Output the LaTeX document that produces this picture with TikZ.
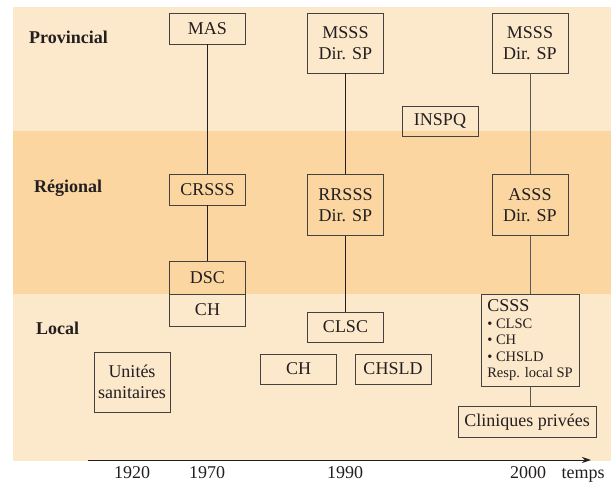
\documentclass[tikz,border=0pt]{standalone}
\usepackage{fontspec}
\setmainfont{Liberation Serif}
\usetikzlibrary{arrows.meta}
\definecolor{bandlight}{RGB}{252,232,203}
\definecolor{banddark}{RGB}{251,214,160}
\definecolor{inkgray}{RGB}{35,31,32}
\begin{document}
\begin{tikzpicture}[x=1pt,y=-1pt,
  box/.style={draw=inkgray!85,line width=0.7pt,inner sep=0pt,text=inkgray,
    font=\fontsize{18}{21}\selectfont,align=center,minimum width=76pt},
  level/.style={anchor=west,inner sep=0pt,text=inkgray,font=\fontsize{18}{21}\selectfont\bfseries},
  year/.style={anchor=base,inner sep=0pt,text=inkgray,font=\fontsize{18}{21}\selectfont},
  link/.style={line width=0.7pt,inkgray}]
\useasboundingbox (0,0) rectangle (611,482);
\fill [bandlight] (13,7) rectangle (611,131);
\fill [banddark] (13,131) rectangle (611,294);
\fill [bandlight] (13,294) rectangle (611,461);
\node [level] (prov) at (29,37) {Provincial};
\node [level] (reg) at (34,188) {Régional};
\node [level] (loc) at (36,328) {Local};
\node [box,minimum height=31pt] (mas) at (207.5,28.5) {MAS};
\node [box,minimum height=60pt] (msssa) at (345.5,43) {MSSS\\Dir. SP};
\node [box,minimum height=60pt] (msssb) at (530,43) {MSSS\\Dir. SP};
\node [box,minimum height=30pt] (inspq) at (440,121) {INSPQ};
\node [box,minimum height=31pt] (crsss) at (207.5,189.5) {CRSSS};
\node [box,minimum height=61pt] (rrsss) at (345.5,205) {RRSSS\\Dir. SP};
\node [box,minimum height=61pt] (asss) at (530,205) {ASSS\\Dir. SP};
\node [box,minimum height=33pt] (dsc) at (207.5,277.5) {DSC};
\node [box,minimum height=32pt] (cha) at (207.5,310) {CH};
\node [box,minimum height=30pt] (clsc) at (345.5,327) {CLSC};
\node [box,minimum height=60pt] (unites) at (132,382) {Unités\\sanitaires};
\node [box,minimum height=30pt] (chb) at (298.5,369) {CH};
\node [box,minimum height=30pt] (chsld) at (393,369) {CHSLD};
\node [box,minimum width=98pt,minimum height=92pt,align=left,
  font=\fontsize{14.5}{16.5}\selectfont] (csss) at (530,340.5)
  {{\fontsize{18}{18}\selectfont CSSS}\\• CLSC\\• CH\\• CHSLD\\Resp. local SP};
\node [box,minimum width=138pt,minimum height=31pt] (clin) at (527,422) {Cliniques privées};
\draw [link] (mas) -- (crsss);
\draw [link] (crsss) -- (dsc);
\draw [link] (msssa) -- (rrsss);
\draw [link] (rrsss) -- (clsc);
\draw [link,black!65] (msssb) -- (asss);
\draw [link,black!65] (asss) -- (csss);
\draw [link,black!65] (csss.south) -- (csss.south |- clin.north);
\coordinate (tstart) at (88,460);
\coordinate (tend) at (591,460);
\draw [line width=1pt,inkgray,-{Stealth[length=9pt,width=6pt]}] (tstart) -- (tend);
\node [year] (ya) at (132,478) {1920};
\node [year] (yb) at (207,478) {1970};
\node [year] (yc) at (345,478) {1990};
\node [year] (yd) at (528,478) {2000};
\node [year] (temps) at (583,478) {temps};
\end{tikzpicture}
\end{document}
